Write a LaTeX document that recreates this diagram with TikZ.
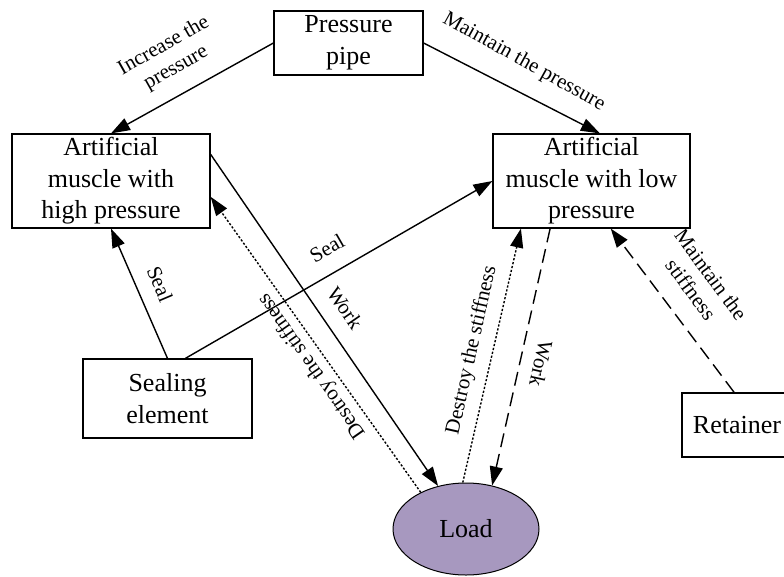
\documentclass[tikz,border=0pt]{standalone}
\usepackage{fontspec}
\setmainfont{Liberation Serif}
\usetikzlibrary{arrows.meta,shapes.geometric}
\definecolor{loadfill}{RGB}{167,152,191}
\begin{document}
\begin{tikzpicture}[x=1pt,y=-1pt,
  box/.style={draw,line width=1.2pt,font=\fontsize{26}{31.5}\selectfont,align=center,inner sep=0pt},
  lbl/.style={font=\fontsize{21}{25}\selectfont,align=center,inner sep=0pt},
  conn/.style={line width=1.4pt,-{Triangle[length=19pt,width=13pt]}},
  dotline/.style={conn,dash pattern=on 2.2pt off 1.8pt},
  dashline/.style={conn,dash pattern=on 14pt off 7pt},
]
\useasboundingbox (0,0) rectangle (784,576);
% nodes
\node[box,minimum width=149pt,minimum height=64pt] (pipe) at (348.5,43) {Pressure\\pipe};
\node[box,minimum width=198pt,minimum height=94pt] (high) at (111,181) {Artificial\\muscle with\\high pressure};
\node[box,minimum width=197pt,minimum height=94pt] (low) at (591.5,181) {Artificial\\muscle with low\\pressure};
\node[box,minimum width=169pt,minimum height=79pt] (seal) at (167.5,398.5) {Sealing\\element};
\node[box,minimum width=110pt,minimum height=64pt] (ret) at (737,425) {Retainer};
\node[ellipse,draw,line width=1pt,fill=loadfill,minimum width=146pt,minimum height=92pt,inner sep=0pt,font=\fontsize{26}{31.5}\selectfont] (load) at (466,529) {Load};
% connectors
\draw[conn] (pipe.west) -- (high.north);
\draw[conn] (pipe.east) -- (low.80);
\draw[conn] (seal.north) -- (high.south);
\draw[conn] (seal.66) -- (low.west);
\draw[conn] (high.15) -- (load.123);
\draw[dotline] (load.141) -- (high.-9);
\draw[dotline] (load.94) -- (low.-146);
\draw[dashline] (low.-131) -- (load.59);
\draw[dashline] (ret.95) -- (low.-68);
% labels
\node[lbl,rotate=29.5] (lincr) at (170,57) {Increase the\\pressure};
\node[lbl,rotate=-29] (lmainp) at (524,62) {Maintain the pressure};
\node[lbl,rotate=-67] (lsealL) at (160,284) {Seal};
\node[lbl,rotate=30] (lsealR) at (327,248) {Seal};
\node[lbl,rotate=-55.5] (lworkL) at (345,308) {Work};
\node[lbl,rotate=125] (ldestL) at (312,366) {Destroy the stiffness};
\node[lbl,rotate=77.4] (ldestR) at (472,350) {Destroy the stiffness};
\node[lbl,rotate=-102.6] (lworkR) at (541,364) {Work};
\node[lbl,rotate=-53.5] (lmaints) at (701,282) {Maintain the\\stiffness};
\end{tikzpicture}
\end{document}
